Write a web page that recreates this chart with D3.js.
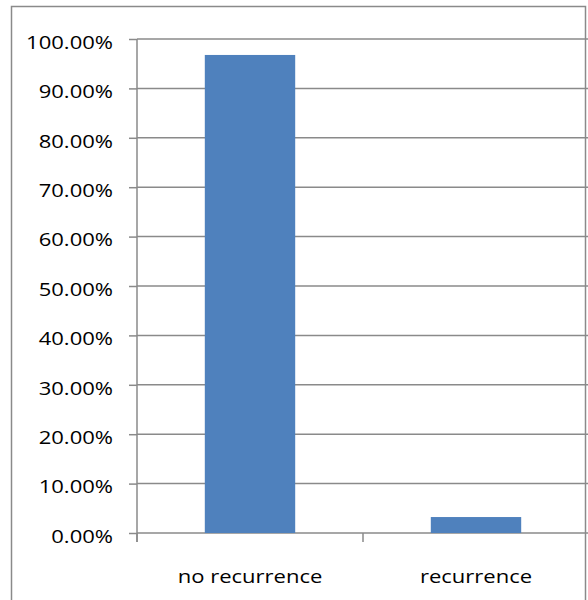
<!DOCTYPE html>
<html>
<head>
<meta charset="utf-8">
<script src="https://cdn.jsdelivr.net/npm/d3@7"></script>
<style>
  html, body { margin: 0; padding: 0; background: #fff; }
  svg { display: block; }
  text { font-family: "Open Sans", Lato, sans-serif; fill: #000; }
</style>
</head>
<body>
<svg id="chart" width="588" height="600"></svg>
<script>
// Share of patients by outcome
const categories = ["no recurrence", "recurrence"];
const shares = [0.9677, 0.0323];
const yTicks = [0, 0.1, 0.2, 0.3, 0.4, 0.5, 0.6, 0.7, 0.8, 0.9, 1.0];

const svg = d3.select("#chart");
const W = 588, H = 600;
const plot = { left: 137, right: 589, top: 39, bottom: 533 };
const lineColor = "#8a8a8a";
const barColor = "#4f81bd";
const fontSize = 18.5;
const stretch = 1.19; // wide label lettering

// Chart frame
svg.append("path")
  .attr("d", `M11.5,${H + 2} V6.5 H585.5 V${H + 2}`)
  .attr("fill", "none")
  .attr("stroke", lineColor)
  .attr("stroke-width", 1.5);

const y = d3.scaleLinear().domain([0, 1]).range([plot.bottom, plot.top]);
const x = d3.scaleBand().domain(categories)
  .range([plot.left, plot.right])
  .paddingInner(0.6).paddingOuter(0.3);

// Horizontal gridlines
svg.append("g")
  .selectAll("line")
  .data(yTicks)
  .join("line")
  .attr("x1", plot.left).attr("x2", W)
  .attr("y1", d => y(d)).attr("y2", d => y(d))
  .attr("stroke", lineColor).attr("stroke-width", 1.5);

// Bars
svg.append("g")
  .selectAll("rect")
  .data(categories.map((c, i) => ({ c, v: shares[i] })))
  .join("rect")
  .attr("x", d => x(d.c))
  .attr("width", x.bandwidth())
  .attr("y", d => y(d.v))
  .attr("height", d => y(0) - y(d.v))
  .attr("fill", barColor);

// Y axis
const yAxis = svg.append("g")
  .attr("transform", `translate(${plot.left},0)`)
  .call(d3.axisLeft(y).tickValues(yTicks).tickFormat(d3.format(".2%")).tickSize(8));
yAxis.select(".domain").attr("stroke", lineColor).attr("stroke-width", 1.5)
  .attr("d", `M0,${plot.top}V${plot.bottom + 9}`);
yAxis.selectAll(".tick line").attr("stroke", lineColor).attr("stroke-width", 1.5);
yAxis.selectAll(".tick text")
  .attr("x", 0)
  .attr("transform", `translate(-24,0) scale(${stretch},1)`)
  .attr("font-size", fontSize)
  .attr("fill", "#000")
  .attr("dy", "0.5em");

// X axis: category boundary ticks and labels
const bounds = [plot.left, plot.left + x.step(), plot.left + 2 * x.step()];
svg.append("g")
  .selectAll("line")
  .data(bounds)
  .join("line")
  .attr("x1", d => d).attr("x2", d => d)
  .attr("y1", plot.bottom).attr("y2", plot.bottom + 9)
  .attr("stroke", lineColor).attr("stroke-width", 1.5);

svg.append("g")
  .selectAll("text")
  .data(categories)
  .join("text")
  .attr("transform", d => `translate(${x(d) + x.bandwidth() / 2},583) scale(${stretch},1)`)
  .attr("text-anchor", "middle")
  .attr("font-size", fontSize)
  .text(d => d);
</script>
</body>
</html>
